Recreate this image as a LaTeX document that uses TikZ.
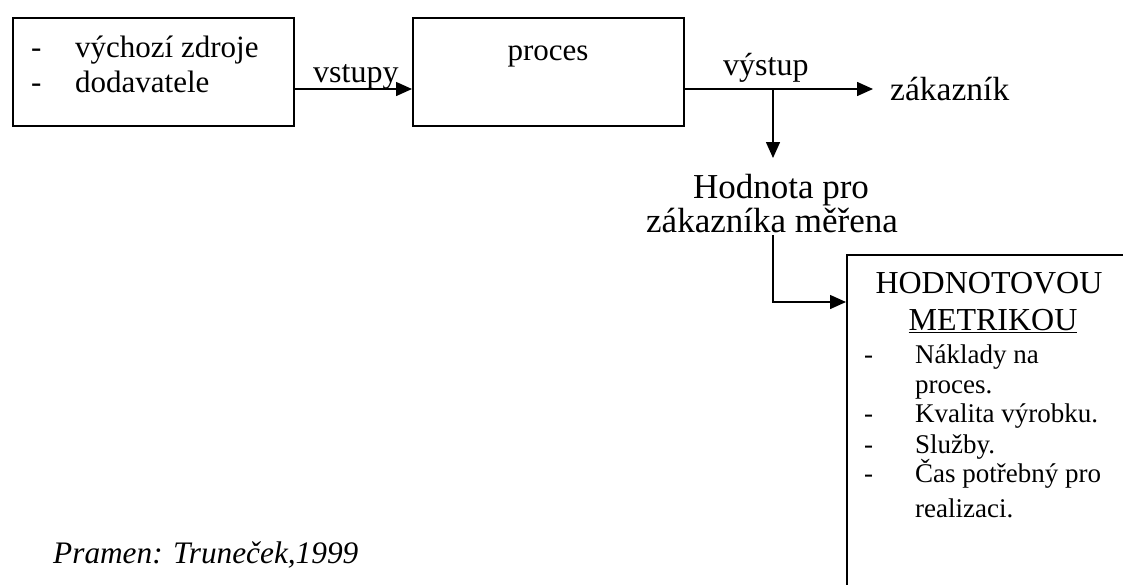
\documentclass[tikz,border=0pt]{standalone}
\usepackage{fontspec}
\setmainfont{Liberation Serif}
\usetikzlibrary{arrows.meta}
\newcommand{\fs}[1]{\fontsize{#1}{#1}\selectfont}
\begin{document}
\begin{tikzpicture}[x=1pt,y=-1pt,
  box/.style={draw,line width=1.5pt,inner sep=0pt,anchor=north west},
  lbl/.style={font=\fs{31},inner sep=0pt,anchor=base west},
  clbl/.style={lbl,anchor=base},
  item/.style={lbl,font=\fs{27}},
  conn/.style={line width=1.5pt},
  arr/.style={conn,-{Triangle[length=16pt,width=14pt]}}]
\useasboundingbox (0,0) rectangle (1123,584);
\clip (0,0) rectangle (1123,584);

% boxes
\node[box,minimum width=281pt,minimum height=108pt] (src) at (12,17) {};
\node[box,minimum width=271pt,minimum height=108pt] (proc) at (412,17) {};
\node[box,minimum width=320pt,minimum height=360pt] (metric) at (846,254) {};

% source box text
\node[lbl] (d1) at (31,57) {-};
\node[lbl] (t1) at (75,57) {výchozí zdroje};
\node[lbl] (d2) at (31,92) {-};
\node[lbl] (t2) at (75,92) {dodavatele};

% process
\node[clbl] (ptext) at (548,60) {proces};

% labels on the flow
\node[lbl,font=\fs{32}] (vst) at (313,82) {vstupy};
\node[lbl,font=\fs{32}] (vys) at (723,75) {výstup};
\node[lbl,font=\fs{33.5}] (zak) at (890,100) {zákazník};
\node[clbl,font=\fs{35}] (h1) at (781,198) {Hodnota pro};
\node[clbl,font=\fs{35}] (h2) at (772,232) {zákazníka měřena};

% metric box text
\node[clbl,font=\fs{32}] (m1) at (989,293) {HODNOTOVOU};
\node[clbl,font=\fs{32}] (m2) at (993,330) {\underline{METRIKOU}};
\node[item] (e1d) at (864,363) {-};
\node[item] (e1) at (915,363) {Náklady na};
\node[item] (e1b) at (915,393) {proces.};
\node[item] (e2d) at (864,422) {-};
\node[item] (e2) at (915,422) {Kvalita výrobku.};
\node[item] (e3d) at (864,453) {-};
\node[item] (e3) at (915,453) {Služby.};
\node[item] (e4d) at (864,482) {-};
\node[item] (e4) at (915,482) {Čas potřebný pro};
\node[item] (e4b) at (915,517) {realizaci.};

% source note
\node[lbl,font=\fs{31.3}\itshape] (note) at (53,563) {Pramen: Truneček,1999};

% connectors
\coordinate (split) at (773,89);
\coordinate (cust) at (873,89);
\coordinate (down) at (773,158);
\coordinate (bend) at (773,235);
\coordinate (min) at (846,302);
\draw[arr] (src.east |- split) -- (proc.west |- split);
\draw[arr] (proc.east |- split) -- (cust);
\draw[arr] (split) -- (down);
\draw[arr] (bend) |- (min);
\end{tikzpicture}
\end{document}
